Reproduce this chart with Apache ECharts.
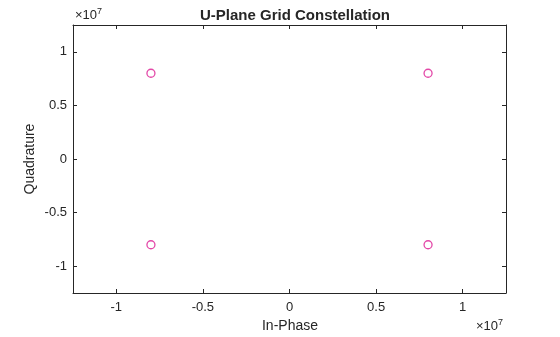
<!DOCTYPE html>
<html>
<head>
<meta charset="utf-8">
<script src="https://cdn.jsdelivr.net/npm/echarts@6/dist/echarts.min.js"></script>
<style>html,body{margin:0;padding:0;background:#fff}#c{width:560px;height:337px}</style>
</head>
<body>
<div id="c"></div>
<script>
var xValues = [-8e6, 8e6, -8e6, 8e6];
var yValues = [8e6, 8e6, -8e6, -8e6];
var tickValues = [-1e7, -5e6, 0, 5e6, 1e7];
var axisMin = -1.25e7, axisMax = 1.25e7;
var titleText = 'U-Plane Grid Constellation';
var xName = 'In-Phase', yName = 'Quadrature';

var pts = xValues.map(function (x, i) { return [x, yValues[i]]; });
var fmt = function (v) { var s = v / 1e7; return s === 0 ? '0' : String(s); };
var col = '#262626';
var font = 'Liberation Sans, Arial, sans-serif';

function axis(pos, showLabel) {
  return {
    type: 'value', position: pos, min: axisMin, max: axisMax,
    axisLine: { show: true, onZero: false, lineStyle: { color: col, width: 1 } },
    axisTick: { show: true, inside: true, length: 4, customValues: tickValues, lineStyle: { color: col } },
    axisLabel: { show: showLabel, customValues: tickValues, formatter: fmt, color: col, fontSize: 13, fontFamily: font, margin: 7 },
    splitLine: { show: false }
  };
}

var chart = echarts.init(document.getElementById('c'), null, { renderer: 'canvas' });
var xa0 = axis('bottom', true); xa0.axisLabel.margin = 8;
var ya0 = axis('left', true); ya0.axisLabel.margin = 6;
chart.setOption({
  animation: false,
  backgroundColor: '#fff',
  title: { text: titleText, left: 290, top: 3, textAlign: 'center',
    textStyle: { fontSize: 15, fontWeight: 'bold', color: col, fontFamily: font } },
  grid: { left: 73, top: 25, right: 54, bottom: 44, containLabel: false },
  xAxis: [xa0, axis('top', false)],
  yAxis: [ya0, axis('right', false)],
  graphic: [
    { type: 'text', left: 75, top: 7, style: { text: '×10{s|7}', rich: { s: { fontSize: 9, verticalAlign: 'top', padding: [0, 0, 8, 0] } }, fill: col, fontSize: 13, fontFamily: font } },
    { type: 'text', left: 476, top: 318, style: { text: '×10{s|7}', rich: { s: { fontSize: 9, padding: [0, 0, 8, 0] } }, fill: col, fontSize: 13, fontFamily: font } },
    { type: 'text', x: 290, y: 326, style: { text: xName, fill: col, fontSize: 14, fontFamily: font, align: 'center', verticalAlign: 'middle' } },
    { type: 'text', x: 30, y: 159, rotation: Math.PI / 2, style: { text: yName, fill: col, fontSize: 14, fontFamily: font, align: 'center', verticalAlign: 'middle' } }
  ],
  series: [{
    type: 'scatter', xAxisIndex: 0, yAxisIndex: 0, data: pts,
    symbol: 'circle', symbolSize: 8,
    itemStyle: { color: 'rgba(0,0,0,0)', borderColor: '#dc1a92', borderWidth: 1.3 }
  }]
});
</script>
</body>
</html>
